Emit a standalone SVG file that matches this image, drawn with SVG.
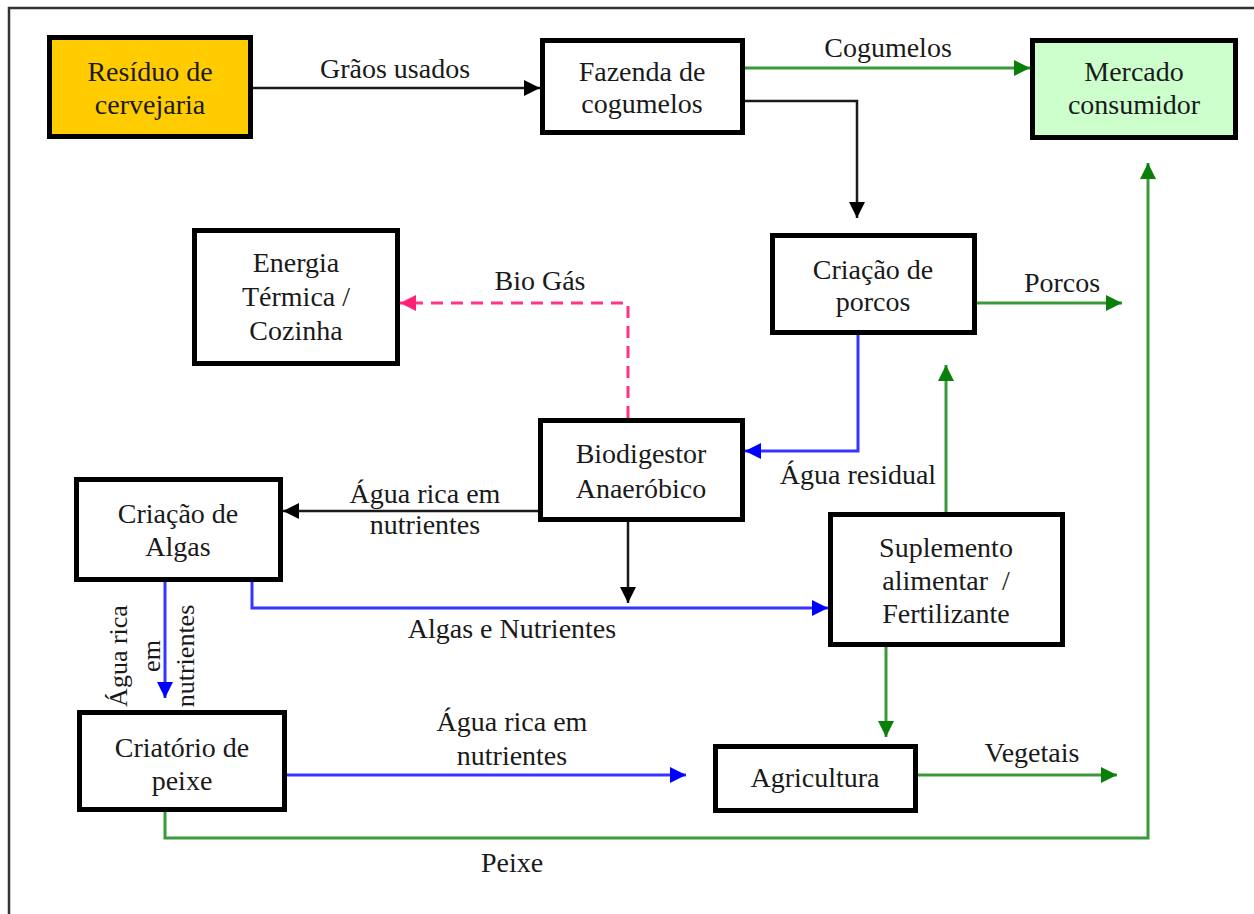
<svg xmlns="http://www.w3.org/2000/svg" width="1254" height="914" viewBox="0 0 1254 914">
  <defs>
    <style>
      .node rect { fill: #ffffff; stroke: #000000; stroke-width: 5; }
      .t { font-family: "Liberation Serif", "Times New Roman", serif; font-size: 28px; fill: #1a1a1a; text-anchor: middle; }
      .vt { font-size: 26px; }
      .blk { fill: none; stroke: #1a1a1a; stroke-width: 2.5; }
      .grn { fill: none; stroke: #3a9a3a; stroke-width: 3; }
      .blu { fill: none; stroke: #3535ff; stroke-width: 3; }
      .pnk { fill: none; stroke: #ff3388; stroke-width: 3; stroke-dasharray: 12 8; }
    </style>
    <marker id="ah-black" viewBox="0 0 10 10" refX="10" refY="5" markerWidth="18" markerHeight="16" markerUnits="userSpaceOnUse" orient="auto">
      <path d="M0,0 L10,5 L0,10 z" fill="#000000"/>
    </marker>
    <marker id="ah-green" viewBox="0 0 10 10" refX="10" refY="5" markerWidth="18" markerHeight="16" markerUnits="userSpaceOnUse" orient="auto">
      <path d="M0,0 L10,5 L0,10 z" fill="#0a800a"/>
    </marker>
    <marker id="ah-blue" viewBox="0 0 10 10" refX="10" refY="5" markerWidth="18" markerHeight="16" markerUnits="userSpaceOnUse" orient="auto">
      <path d="M0,0 L10,5 L0,10 z" fill="#0000ff"/>
    </marker>
    <marker id="ah-pink" viewBox="0 0 10 10" refX="10" refY="5" markerWidth="18" markerHeight="16" markerUnits="userSpaceOnUse" orient="auto">
      <path d="M0,0 L10,5 L0,10 z" fill="#ff2277"/>
    </marker>
  </defs>

  <rect width="1254" height="914" fill="#ffffff"/>
  <!-- page frame (top and left edges) -->
  <path d="M9,914 L9,8 L1254,8" fill="none" stroke="#333333" stroke-width="2.5"/>

  <g id="connectors">
    <path class="blk" d="M253,88 L540,88" marker-end="url(#ah-black)"/>
    <path class="grn" d="M745,68 L1030,68" marker-end="url(#ah-green)"/>
    <path class="blk" d="M745,101 L857,101 L857,218" marker-end="url(#ah-black)"/>
    <path class="grn" d="M977,303 L1122,303" marker-end="url(#ah-green)"/>
    <path class="blu" d="M858,335 L858,451 L745,451" marker-end="url(#ah-blue)"/>
    <path class="pnk" d="M628,418 L628,303 L400,303" marker-end="url(#ah-pink)"/>
    <path class="blk" d="M538,511 L283,511" marker-end="url(#ah-black)"/>
    <path class="blk" d="M628,522 L628,603" marker-end="url(#ah-black)"/>
    <path class="blu" d="M252,582 L252,608 L828,608" marker-end="url(#ah-blue)"/>
    <path class="blu" d="M165,582 L165,698" marker-end="url(#ah-blue)"/>
    <path class="grn" d="M946,512 L946,365" marker-end="url(#ah-green)"/>
    <path class="grn" d="M886,647 L886,737" marker-end="url(#ah-green)"/>
    <path class="grn" d="M918,775 L1117,775" marker-end="url(#ah-green)"/>
    <path class="blu" d="M287,775 L686,775" marker-end="url(#ah-blue)"/>
    <path class="grn" d="M165,812 L165,838 L1148,838 L1148,163" marker-end="url(#ah-green)"/>

    <!-- connector labels -->
    <text class="t" x="395" y="78">Grãos usados</text>
    <text class="t" x="888" y="57">Cogumelos</text>
    <text class="t" x="1062" y="292">Porcos</text>
    <text class="t" x="540" y="290">Bio Gás</text>
    <text class="t" x="858" y="484">Água residual</text>
    <text class="t" x="425" y="503">Água rica em</text>
    <text class="t" x="425" y="534">nutrientes</text>
    <text class="t" x="512" y="638">Algas e Nutrientes</text>
    <text class="t" x="512" y="731">Água rica em</text>
    <text class="t" x="512" y="765">nutrientes</text>
    <text class="t" x="1032" y="762">Vegetais</text>
    <text class="t" x="512" y="872">Peixe</text>
    <g transform="translate(0,656) rotate(-90)">
      <text class="t vt" x="0" y="127">Água rica</text>
      <text class="t vt" x="0" y="160">em</text>
      <text class="t vt" x="0" y="194">nutrientes</text>
    </g>
  </g>

  <g id="residuo" class="node">
    <rect x="49.5" y="37.5" width="201" height="99" style="fill:#ffcc00"/>
    <text class="t" x="150" y="81">Resíduo de</text>
    <text class="t" x="150" y="114">cervejaria</text>
  </g>

  <g id="fazenda" class="node">
    <rect x="542.5" y="40.5" width="200" height="92"/>
    <text class="t" x="642" y="81">Fazenda de</text>
    <text class="t" x="642" y="113">cogumelos</text>
  </g>

  <g id="mercado" class="node">
    <rect x="1032.5" y="40.5" width="203" height="97" style="fill:#ccffcc"/>
    <text class="t" x="1134" y="81">Mercado</text>
    <text class="t" x="1134" y="114">consumidor</text>
  </g>

  <g id="porcos" class="node">
    <rect x="772.5" y="235.5" width="202" height="97"/>
    <text class="t" x="873" y="279">Criação de</text>
    <text class="t" x="873" y="311">porcos</text>
  </g>

  <g id="energia" class="node">
    <rect x="194.5" y="230.5" width="203" height="133"/>
    <text class="t" x="296" y="272">Energia</text>
    <text class="t" x="296" y="306">Térmica /</text>
    <text class="t" x="296" y="340">Cozinha</text>
  </g>

  <g id="biodigestor" class="node">
    <rect x="540.5" y="420.5" width="202" height="99"/>
    <text class="t" x="641" y="463">Biodigestor</text>
    <text class="t" x="641" y="498">Anaeróbico</text>
  </g>

  <g id="algas" class="node">
    <rect x="76.5" y="479.5" width="204" height="100"/>
    <text class="t" x="178" y="523">Criação de</text>
    <text class="t" x="178" y="556">Algas</text>
  </g>

  <g id="criatorio" class="node">
    <rect x="79.5" y="712.5" width="205" height="97"/>
    <text class="t" x="182" y="757">Criatório de</text>
    <text class="t" x="182" y="790">peixe</text>
  </g>

  <g id="suplemento" class="node">
    <rect x="830.5" y="514.5" width="232" height="130"/>
    <text class="t" x="946" y="557">Suplemento</text>
    <text class="t" x="946" y="590" xml:space="preserve">alimentar  /</text>
    <text class="t" x="946" y="623">Fertilizante</text>
  </g>

  <g id="agricultura" class="node">
    <rect x="715.5" y="746.5" width="200" height="64"/>
    <text class="t" x="815" y="787">Agricultura</text>
  </g>
</svg>
